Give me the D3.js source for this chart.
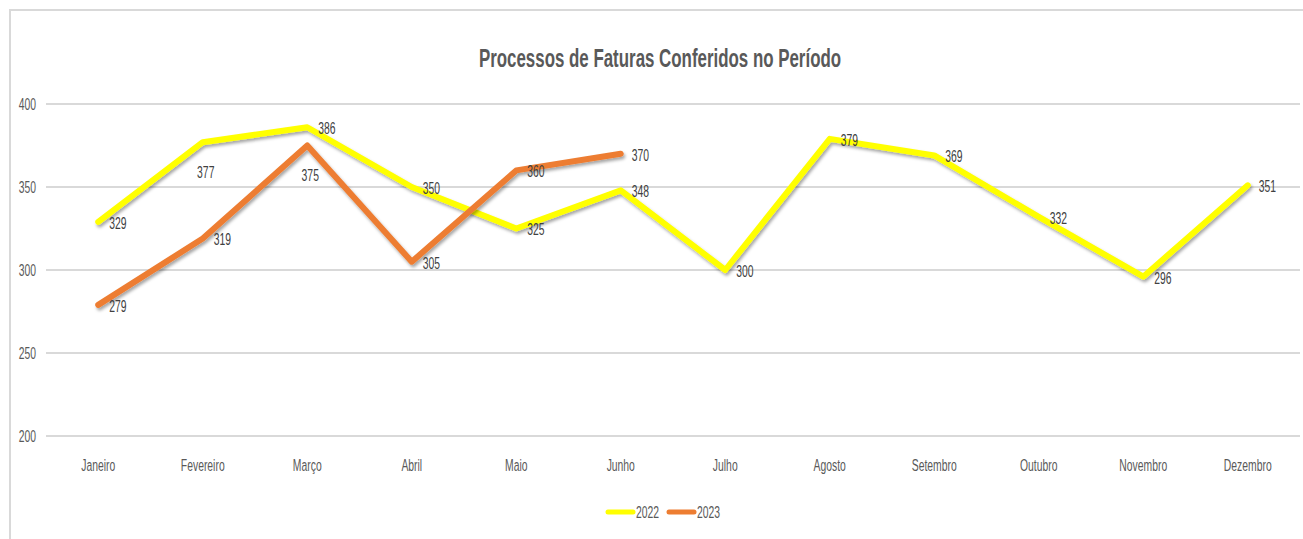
<!DOCTYPE html>
<html>
<head>
<meta charset="utf-8">
<script src="https://d3js.org/d3.v7.min.js"></script>
<style>
  body, html { margin: 0; background: #fff; }
  svg { display: block; font-family: 'Liberation Sans', Arial, sans-serif; }
  .grid line { stroke: #d9d9d9; stroke-width: 2px; }
  .axis text { fill: #595959; font-size: 17px; }
  .lbl { fill: #404040; font-size: 17px; }
</style>
</head>
<body>
<div id="chart"></div>
<script>
var months = ["Janeiro", "Fevereiro", "Março", "Abril", "Maio", "Junho", "Julho",
  "Agosto", "Setembro", "Outubro", "Novembro", "Dezembro"];
var values2022 = [329, 377, 386, 350, 325, 348, 300, 379, 369, 332, 296, 351];
var values2023 = [279, 319, 375, 305, 360, 370];
var yTicks = [200, 250, 300, 350, 400];
var seriesNames = ["2022", "2023"];
var seriesColors = ["#ffff00", "#ed7d31"];
// labels Excel pushed under the point instead of to the right
var below2022 = [1];
var below2023 = [2];

var W = 1303, H = 539, sx = 0.61;
var svg = d3.select("#chart").append("svg").attr("width", W).attr("height", H);

var defs = svg.append("defs");
var f = defs.append("filter").attr("id", "shadow")
  .attr("x", "-10%").attr("y", "-10%").attr("width", "120%").attr("height", "130%");
f.append("feDropShadow").attr("dx", 1.5).attr("dy", 2.5).attr("stdDeviation", 1.5)
  .attr("flood-color", "#000").attr("flood-opacity", 0.35);

// chart border (only top & left visible in the crop)
svg.append("rect").attr("x", 10).attr("y", 10).attr("width", 1400).attr("height", 700)
  .attr("fill", "none").attr("stroke", "#d9d9d9").attr("stroke-width", 2);

var x = d3.scalePoint().domain(months).range([46, 1300]).padding(0.5);
var y = d3.scaleLinear().domain([200, 400]).range([436, 104]);

function squish(sel, px, py) {
  sel.attr("transform", function(d, i) {
    return "translate(" + px(d, i) + "," + py(d, i) + ") scale(" + sx + ",1)";
  });
}

svg.append("text")
  .attr("text-anchor", "middle")
  .attr("font-size", 26)
  .attr("font-weight", "bold")
  .attr("fill", "#595959")
  .attr("transform", "translate(660,67) scale(0.65,1)")
  .text("Processos de Faturas Conferidos no Período");

svg.append("g").attr("class", "grid")
  .selectAll("line").data(yTicks).enter().append("line")
  .attr("x1", 46).attr("x2", 1300)
  .attr("y1", d => y(d)).attr("y2", d => y(d));

var yAxis = svg.append("g").attr("class", "axis");
yAxis.selectAll("text").data(yTicks).enter().append("text")
  .attr("text-anchor", "end").attr("dy", "0.35em")
  .text(d => d)
  .call(squish, () => 36, d => y(d));

var xAxis = svg.append("g").attr("class", "axis");
xAxis.selectAll("text").data(months).enter().append("text")
  .attr("text-anchor", "middle").attr("dy", "0.35em")
  .text(d => d)
  .call(squish, d => x(d), () => 465);

var line = d3.line().x((d, i) => x(months[i])).y(d => y(d));

var series = [values2022, values2023];
var belows = [below2022, below2023];

series.forEach(function(vals, s) {
  svg.append("path").datum(vals)
    .attr("d", line)
    .attr("fill", "none")
    .attr("stroke", seriesColors[s])
    .attr("stroke-width", 6)
    .attr("stroke-linejoin", "round")
    .attr("stroke-linecap", "round")
    .attr("filter", "url(#shadow)");
});

series.forEach(function(vals, s) {
  svg.append("g").selectAll("text").data(vals).enter().append("text")
    .attr("class", "lbl")
    .attr("dy", "0.35em")
    .attr("text-anchor", (d, i) => belows[s].indexOf(i) >= 0 ? "middle" : "start")
    .text(d => d)
    .call(squish,
      (d, i) => x(months[i]) + (belows[s].indexOf(i) >= 0 ? 3 : 11),
      (d, i) => y(d) + (belows[s].indexOf(i) >= 0 ? 30 : 1));
});

// legend
var legend = svg.append("g").selectAll("g").data(seriesNames).enter().append("g")
  .attr("transform", (d, i) => "translate(" + (608 + i * 61) + ",512)");
legend.append("line")
  .attr("x1", 0).attr("x2", 25).attr("y1", 0).attr("y2", 0)
  .attr("stroke", (d, i) => seriesColors[i])
  .attr("stroke-width", 5).attr("stroke-linecap", "round");
legend.append("text")
  .attr("fill", "#595959").attr("font-size", 17).attr("dy", "0.35em")
  .attr("transform", "translate(28,0) scale(" + sx + ",1)")
  .text(d => d);
</script>
</body>
</html>
